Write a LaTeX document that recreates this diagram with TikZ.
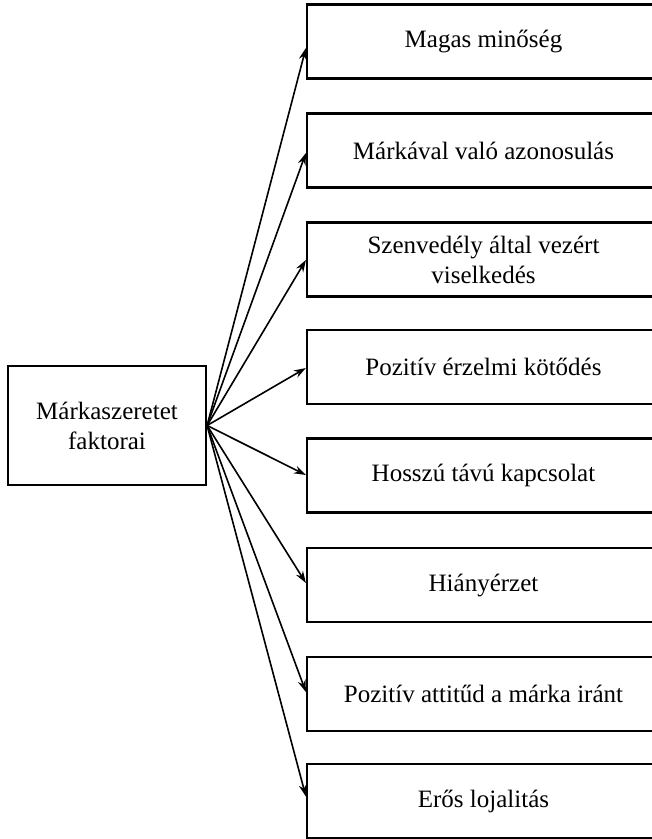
\documentclass[tikz,border=0pt]{standalone}
\usepackage{fontspec}
\setmainfont{Liberation Serif}
\usetikzlibrary{arrows.meta}
\begin{document}
\begin{tikzpicture}[x=1pt,y=-1pt,
  box/.style={draw, line width=2.2pt, align=center, inner sep=0pt,
    font=\fontsize{25}{30}\selectfont},
  srcbox/.style={box, minimum width=198pt, minimum height=119pt},
  factor/.style={box, minimum width=353pt, minimum height=74pt},
  arr/.style={line width=1.6pt, -{Stealth[length=12pt,width=8pt]}}]
\useasboundingbox (0,0) rectangle (652,839);
\fill[white] (0,0) rectangle (652,839);

% source box
\node[srcbox] (src) at (107,425.5) {Márkaszeretet\\faktorai};

% factor boxes (right edges run past the page border)
\node[factor] (f1) at (483.5,41.5)  {Magas minőség};
\node[factor] (f2) at (483.5,150.5) {Márkával való azonosulás};
\node[factor] (f3) at (483.5,259.5) {Szenvedély által vezért\\viselkedés};
\node[factor] (f4) at (483.5,367)   {Pozitív érzelmi kötődés};
\node[factor] (f5) at (483.5,475.5) {Hosszú távú kapcsolat};
\node[factor] (f6) at (483.5,585)   {Hiányérzet};
\node[factor] (f7) at (483.5,694)   {Pozitív attitűd a márka iránt};
\node[factor] (f8) at (483.5,801)   {Erős lojalitás};

% connectors fanning out from the source box
\foreach \n/\s in {f1/-6.5, f2/-2.5, f3/-0.5, f4/-1, f5/0.5, f6/2, f7/2, f8/4.5}
  \draw[arr] (src.east) -- ([yshift=\s pt]\n.west);
\end{tikzpicture}
\end{document}
